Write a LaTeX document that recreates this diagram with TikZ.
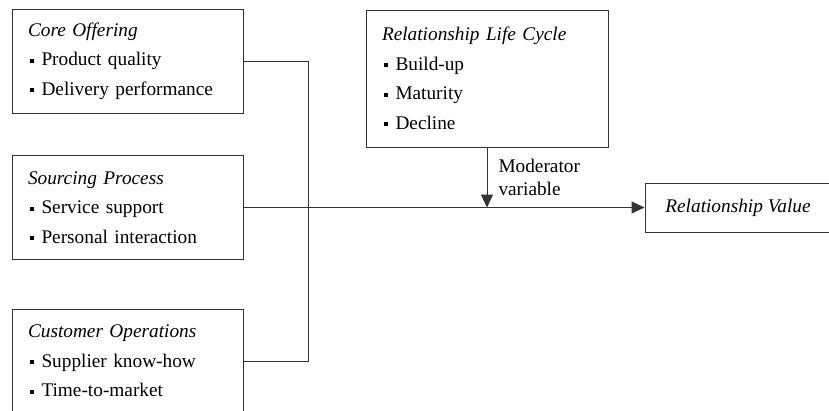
\documentclass[tikz,border=0pt]{standalone}
\usepackage{fontspec}
\setmainfont{Liberation Serif}
\usetikzlibrary{arrows.meta,positioning}
\newcommand{\bul}{\hspace{1.5pt}\rule[3.2pt]{4pt}{4pt}\hspace{8pt}}
\tikzset{
  boxL/.style={ draw=black!80, line width=1pt, rectangle, inner xsep=16pt, text width=199pt, minimum height=104pt, align=left, font=\fontsize{19.3}{29.5}\selectfont }
}
\tikzset{
  boxC/.style={ boxL, text width=210pt, minimum height=137pt }
}
\tikzset{
  boxV/.style={ draw=black!80, line width=1pt, rectangle, minimum width=186pt, minimum height=49pt, font=\fontsize{19.3}{23}\selectfont\itshape }
}
\tikzset{
  link/.style={ draw=black!80, line width=1pt }
}

\begin{document}
\begin{tikzpicture}[x=1pt, y=-1pt]
      \useasboundingbox (0,0) rectangle (829,410);
      \clip (0,0) rectangle (829,410);

      \node[boxL] (co) at (127.5, 61) {\textit{Core Offering}\\ \bul Product quality\\ \bul Delivery performance};
      \node[boxL] (sp) at (127.5, 207.5) {\textit{Sourcing Process}\\ \bul Service support\\ \bul Personal interaction};
      \node[boxL] (cu) at (127.5, 361) {\textit{Customer Operations}\\ \bul Supplier know-how\\ \bul Time-to-market};

      \node[boxC] (lc) at (487, 78.5) {\textit{Relationship Life Cycle}\\ \bul Build-up\\ \bul Maturity\\ \bul Decline};
      \node[boxV] (rv) at (738, 207.5) {Relationship Value};

      \coordinate (bus) at (308.5, 207.5);
      \coordinate (j) at (lc.south |- rv.west);

      \draw[link] (co.east) -| (bus) |- (cu.east);
      \draw[link, -{Triangle[length=13pt, width=12pt]}] (sp.east) -- (rv.west);
      \draw[link, -{Triangle[length=13pt, width=12pt]}] (lc.south) -- (j)
        node[midway, right, align=left, inner xsep=11pt, font=\fontsize{19.3}{23}\selectfont] {Moderator\\variable};
    \end{tikzpicture}
\end{document}
